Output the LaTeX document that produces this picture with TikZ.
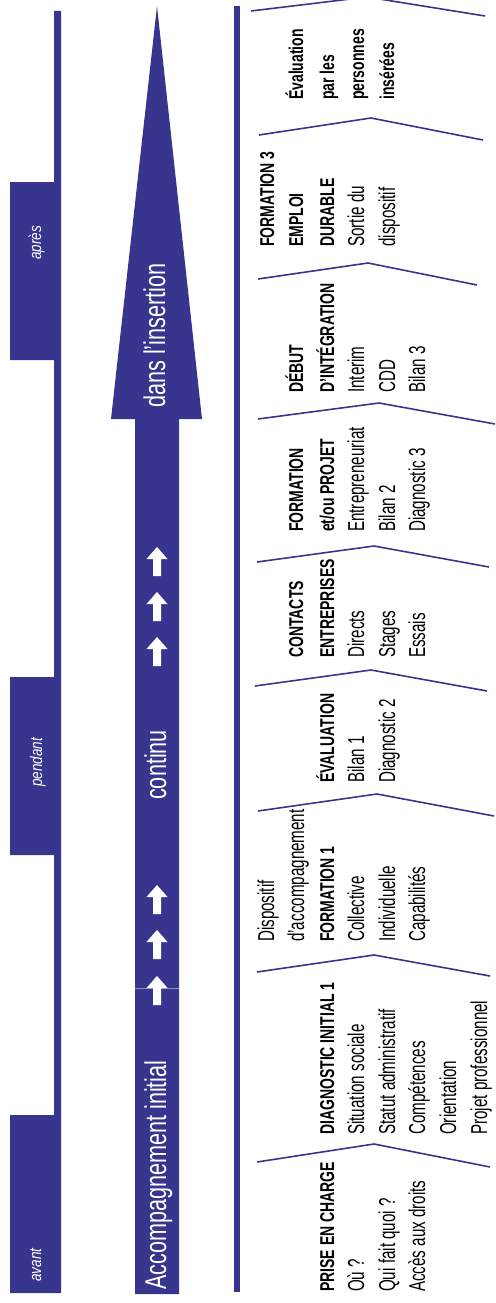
\documentclass[tikz,border=0pt]{standalone}
\usepackage{fontspec}
\setmainfont{Liberation Sans}
\newfontfamily\lightf{Liberation Sans}[FakeStretch=0.66]
\newfontfamily\boldf{Liberation Sans}[FakeStretch=0.70]
\newfontfamily\bigf{Liberation Sans}[FakeStretch=0.72]
\newfontfamily\itf{Liberation Sans}[FakeStretch=0.80]
\definecolor{navy}{RGB}{56,53,143}
\tikzset{
  lt/.style={rotate=90, anchor=base west, inner sep=0pt, font=\lightf\fontsize{23}{28}\selectfont, text=black},
  bd/.style={rotate=90, anchor=base west, inner sep=0pt, font=\boldf\bfseries\fontsize{20}{24}\selectfont, text=black},
  big/.style={rotate=90, anchor=base west, inner sep=0pt, font=\bigf\fontsize{30}{36}\selectfont, text=white},
  phase/.style={rotate=90, anchor=base west, inner sep=0pt, font=\itf\itshape\fontsize{17}{20}\selectfont, text=white},
  chev/.style={draw=navy, line width=1.6pt},
  navyfill/.style={fill=navy},
}
\begin{document}
\begin{tikzpicture}[x=1pt,y=-1pt]
\useasboundingbox (0,0) rectangle (495,1303);
\clip (0,0) rectangle (495,1303);
% phase bar and tabs
\path[navyfill] (54,11) rectangle (61,1293)
  (10,182) rectangle (61,360)
  (10,677) rectangle (61,855)
  (10,1115) rectangle (61,1293);
\node[phase] (apres) at (41,260) {après};
\node[phase] (pendant) at (42,787) {pendant};
\node[phase] (avant) at (41,1282) {avant};
% big arrow
\path[navyfill] (135,1294) -- (135,419) -- (111,419) -- (157,6) -- (202,419) -- (179,419) -- (179,1294) -- cycle;
\draw[navy!55!white, line width=0.6pt] (135,988) -- (179,988);
\foreach \t in {547,592,637,885,930,976}{
  \fill[white] (157,\t) -- ++(10.5,12) -- ++(-6.5,0) -- ++(0,17) -- ++(-8,0) -- ++(0,-17) -- ++(-6.5,0) -- cycle;
}
\node[big] (ins) at (165,408) {dans l’insertion};
\node[big] (cont) at (166,800) {continu};
\node[big] (acc) at (166,1290) {Accompagnement initial};
% right bar
\path[navyfill] (234,6) rectangle (240,1292);
% chevrons
\draw[chev] (251,11) -- (367,-3) -- (485,16);
\draw[chev] (259,135) -- (371,118) -- (483,140);
\draw[chev] (258,279) -- (368,263) -- (477,285);
\draw[chev] (258,419) -- (379,403) -- (495,424);
\draw[chev] (257,562) -- (374,546) -- (489,567);
\draw[chev] (255,686) -- (371,670) -- (487,691);
\draw[chev] (258,811) -- (377,794) -- (494,816);
\draw[chev] (257,972) -- (374,955) -- (490,976);
\draw[chev] (257,1162) -- (374,1144) -- (490,1167);
% block 1
\node[bd] (b1a) at (334,1292) {PRISE EN CHARGE};
\node[lt] (b1b) at (364,1292) {Où ?};
\node[lt] (b1c) at (395,1292) {Qui fait quoi ?};
\node[lt] (b1d) at (425,1292) {Accès aux droits};
% block 2
\node[bd] (b2a) at (334,1135) {DIAGNOSTIC INITIAL 1};
\node[lt] (b2b) at (364,1135) {Situation sociale};
\node[lt] (b2c) at (395,1135) {Statut administratif};
\node[lt] (b2d) at (425,1135) {Compétences};
\node[lt] (b2e) at (456,1135) {Orientation};
\node[lt] (b2f) at (487,1135) {Projet professionnel};
% block 3
\node[lt] (b3a) at (274,942) {Dispositif};
\node[lt] (b3b) at (304,942) {d’accompagnement};
\node[bd] (b3c) at (334,942) {FORMATION 1};
\node[lt] (b3d) at (364,942) {Collective};
\node[lt] (b3e) at (395,942) {Individuelle};
\node[lt] (b3f) at (425,942) {Capabilités};
% block 4
\node[bd] (b4a) at (334,783) {ÉVALUATION};
\node[lt] (b4b) at (364,783) {Bilan 1};
\node[lt] (b4c) at (395,783) {Diagnostic 2};
% block 5
\node[bd] (b5a) at (303,658) {CONTACTS};
\node[bd] (b5b) at (334,658) {ENTREPRISES};
\node[lt] (b5c) at (364,658) {Directs};
\node[lt] (b5d) at (395,658) {Stages};
\node[lt] (b5e) at (425,658) {Essais};
% block 6
\node[bd] (b6a) at (303,532) {FORMATION};
\node[bd] (b6b) at (334,532) {et/ou PROJET};
\node[lt] (b6c) at (364,532) {Entrepreneuriat};
\node[lt] (b6d) at (395,532) {Bilan 2};
\node[lt] (b6e) at (425,532) {Diagnostic 3};
% block 7
\node[bd] (b7a) at (303,393) {DÉBUT};
\node[bd] (b7b) at (334,393) {D’INTÉGRATION};
\node[lt] (b7c) at (364,393) {Interim};
\node[lt] (b7d) at (395,393) {CDD};
\node[lt] (b7e) at (425,393) {Bilan 3};
% block 8
\node[bd] (b8a) at (274,247) {FORMATION 3};
\node[bd] (b8b) at (303,247) {EMPLOI};
\node[bd] (b8c) at (334,247) {DURABLE};
\node[lt] (b8d) at (364,247) {Sortie du};
\node[lt] (b8e) at (395,247) {dispositif};
% block 9
\node[bd] (b9a) at (303,100) {Évaluation};
\node[bd] (b9b) at (334,100) {par les};
\node[bd] (b9c) at (364,100) {personnes};
\node[bd] (b9d) at (394,100) {insérées};
\end{tikzpicture}
\end{document}
